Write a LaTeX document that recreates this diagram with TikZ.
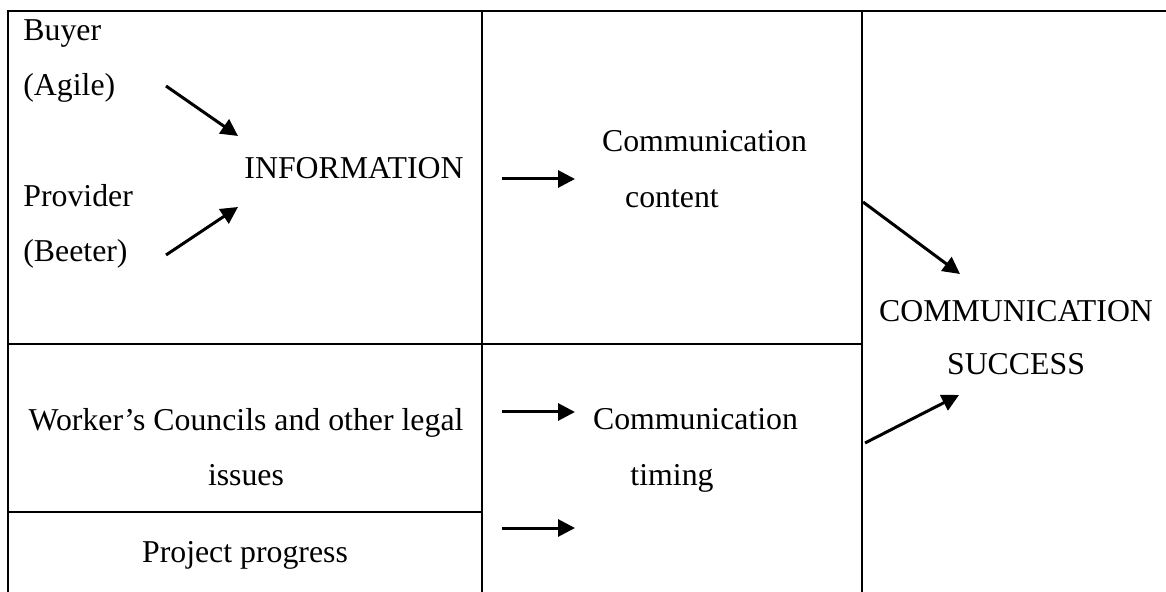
\documentclass[tikz,border=0pt]{standalone}
\usepackage{fontspec}
\setmainfont{Liberation Serif}
\usetikzlibrary{arrows.meta,positioning}

\begin{document}
\begin{tikzpicture}[x=0.5pt, y=-0.5pt,
    line/.style={-{Triangle[length=8.5pt, width=8.5pt]}, line width=1.5pt},
    frame/.style={line width=1pt},
    txt/.style={anchor=base, inner sep=0pt, font=\fontsize{15.9}{19}\selectfont}]
    \useasboundingbox (0, 0) rectangle (1166, 592);

    % table frame
    \draw[frame] (1166, 11) -- (7.5, 11) -- (7.5, 592);
    \draw[frame] (482, 11) -- (482, 592);
    \draw[frame] (862, 11) -- (862, 592);
    \draw[frame] (7.5, 344) -- (862, 344);
    \draw[frame] (7.5, 512) -- (482, 512);

    % texts
    \node[txt, anchor=base west] (buyer) at (23, 41) {Buyer};
    \node[txt, anchor=base west] (agile) at (23, 96) {(Agile)};
    \node[txt, anchor=base west] (provider) at (23, 207) {Provider};
    \node[txt, anchor=base west] (beeter) at (23, 262) {(Beeter)};
    \node[txt] (info) at (354, 179) {INFORMATION};
    \node[txt] (content1) at (704.5, 152) {Communication};
    \node[txt] (content2) at (672, 208) {content};
    \node[txt] (legal1) at (246, 431) {Worker’s Councils and other legal};
    \node[txt] (legal2) at (246, 486) {issues};
    \node[txt] (progress) at (245, 562) {Project progress};
    \node[txt] (timing1) at (695.5, 430) {Communication};
    \node[txt] (timing2) at (672, 486) {timing};
    \node[txt] (success1) at (1016, 322) {COMMUNICATION};
    \node[txt] (success2) at (1016, 375) {SUCCESS};

    % arrow ends
    \coordinate (b1) at (166, 86);  \coordinate (b2) at (238, 136);
    \coordinate (p1) at (166, 255); \coordinate (p2) at (238, 207);
    \coordinate (c1) at (502, 179); \coordinate (c2) at (575, 179);
    \coordinate (t1) at (502, 412); \coordinate (t2) at (575, 412);
    \coordinate (g1) at (502, 528); \coordinate (g2) at (575, 528);
    \coordinate (s1) at (863, 202); \coordinate (s2) at (960, 274);
    \coordinate (s3) at (865, 443); \coordinate (s4) at (959, 395);

    \draw[line] (b1) -- (b2);
    \draw[line] (p1) -- (p2);
    \draw[line] (c1) -- (c2);
    \draw[line] (t1) -- (t2);
    \draw[line] (g1) -- (g2);
    \draw[line] (s1) -- (s2);
    \draw[line] (s3) -- (s4);
\end{tikzpicture}
\end{document}
